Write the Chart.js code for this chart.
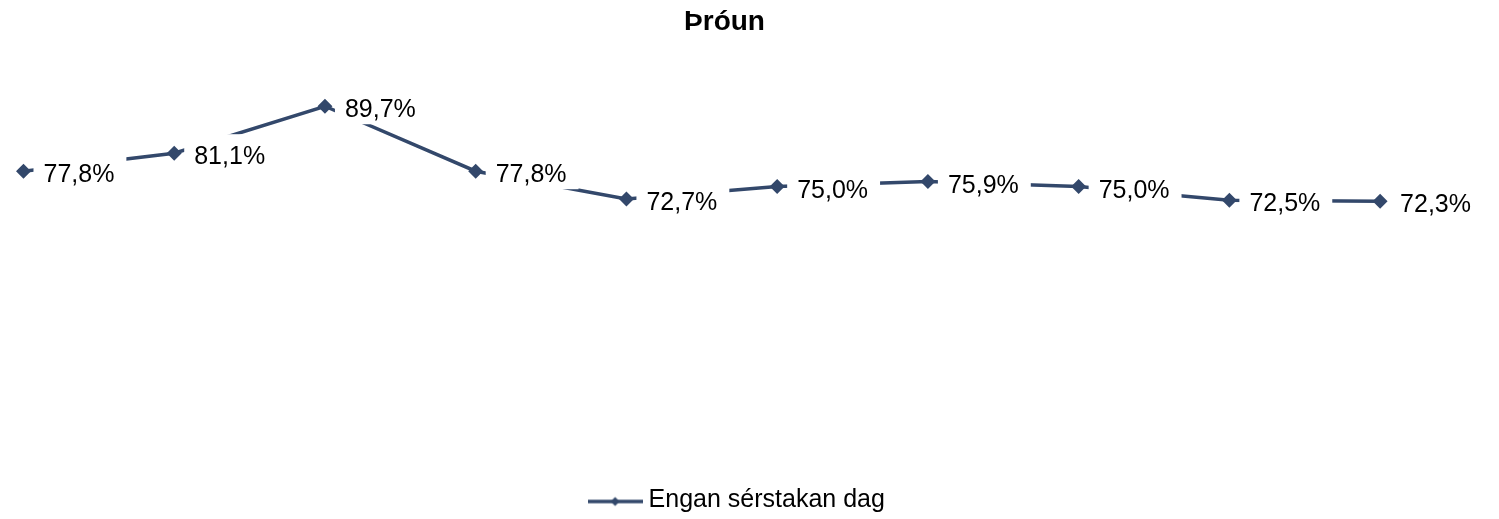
<!DOCTYPE html>
<html>
<head>
<meta charset="utf-8">
<script src="https://cdn.jsdelivr.net/npm/chart.js@4/dist/chart.umd.min.js"></script>
<style>
  html, body { margin: 0; padding: 0; background: #fff; }
  #wrap { width: 1499px; height: 519px; }
</style>
</head>
<body>
<div id="wrap"><canvas id="chart"></canvas></div>
<script>
const labels = ['1', '2', '3', '4', '5', '6', '7', '8', '9', '10'];
const values = [77.8, 81.1, 89.7, 77.8, 72.7, 75.0, 75.9, 75.0, 72.5, 72.3];
const seriesName = 'Engan sérstakan dag';
const titleText = 'Þróun';
const NAVY = '#33486b';
const FONT = '"Liberation Sans", Arial, sans-serif';

// percent label right of each point, on a white box that hides the line
const pointLabels = {
  id: 'pointLabels',
  afterDatasetsDraw(chart) {
    const ctx = chart.ctx;
    const meta = chart.getDatasetMeta(0);
    ctx.save();
    ctx.font = '25px ' + FONT;
    ctx.textBaseline = 'alphabetic';
    meta.data.forEach((pt, i) => {
      const txt = values[i].toFixed(1).replace('.', ',') + '%';
      const w = ctx.measureText(txt).width;
      const x = pt.x + 20, base = pt.y + 11;
      ctx.fillStyle = '#fff';
      ctx.fillRect(x - 10, base - 30, w + 22, 37);
      ctx.fillStyle = '#000';
      ctx.fillText(txt, x, base);
    });
    ctx.restore();
  }
};

// title drawn by hand (sits a bit left of the canvas centre in the original)
const titlePlugin = {
  id: 'titlePlugin',
  afterDraw(chart) {
    const ctx = chart.ctx;
    ctx.save();
    ctx.font = 'bold 28px ' + FONT;
    ctx.fillStyle = '#000';
    ctx.textAlign = 'center';
    ctx.textBaseline = 'alphabetic';
    ctx.fillText(titleText, 724.5, 30);
    ctx.restore();
  }
};

// legend marker: line with a small diamond in the middle
function legendMarker() {
  const c = document.createElement('canvas');
  c.width = 55; c.height = 14;
  const g = c.getContext('2d');
  g.strokeStyle = NAVY; g.lineWidth = 3.5;
  g.beginPath(); g.moveTo(0, 8); g.lineTo(55, 8); g.stroke();
  g.fillStyle = NAVY;
  g.beginPath(); g.moveTo(27.5, 3.5); g.lineTo(32, 8); g.lineTo(27.5, 12.5); g.lineTo(23, 8); g.closePath(); g.fill();
  return c;
}

new Chart(document.getElementById('chart'), {
  type: 'line',
  data: {
    labels: labels,
    datasets: [{
      label: seriesName,
      data: values.map((v, i) => ({ x: i, y: v })),
      borderColor: NAVY,
      backgroundColor: NAVY,
      borderWidth: 3.5,
      pointStyle: 'rectRot',
      pointRadius: 5,
      pointHoverRadius: 5,
      tension: 0
    }]
  },
  plugins: [pointLabels, titlePlugin],
  options: {
    responsive: true,
    maintainAspectRatio: false,
    animation: false,
    layout: { padding: { left: 0, right: 20, top: 50, bottom: -4 } },
    scales: {
      x: { type: 'linear', display: false, min: -0.0994, max: 9.656 },
      y: { display: false, min: 20.7, max: 100 }
    },
    plugins: {
      title: { display: false },
      legend: {
        position: 'bottom',
        labels: {
          usePointStyle: true,
          pointStyleWidth: 42,
          color: '#000',
          font: { family: FONT, size: 25 },
          padding: 5,
          generateLabels: () => [{
            text: seriesName,
            pointStyle: legendMarker(),
            fillStyle: NAVY,
            strokeStyle: NAVY,
            lineWidth: 0,
            datasetIndex: 0
          }]
        }
      },
      tooltip: { enabled: false }
    }
  }
});
</script>
</body>
</html>
